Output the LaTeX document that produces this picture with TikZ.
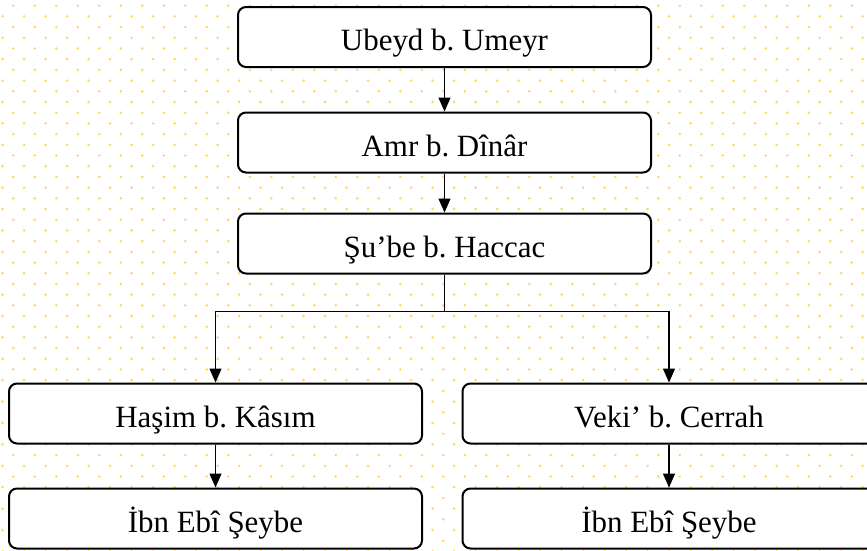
\documentclass[tikz,border=0pt]{standalone}
\usepackage{fontspec}
\setmainfont{Liberation Serif}
\frenchspacing
\usetikzlibrary{
    positioning,
    arrows.meta
    }
\definecolor{dotyellow}{RGB}{255,214,100}

\begin{document}
\begin{tikzpicture}[x=0.75pt, y=-0.75pt]
% chktex-file 1
\tikzset{person/.style =
        {
            rectangle,
            rounded corners=6pt,
            line width=1.5pt,
            draw=black,
            fill=white,
            minimum width=309.75pt,
            minimum height=45pt,
            inner sep=0pt,
            text height=21pt,
            text depth=0.4pt,
            font=\fontsize{23.2}{27}\selectfont
        }
}

\tikzset{link/.style =
        {
            line width=1pt,
            black
        }
}

\tikzset{descent/.style =
        {
            link,
            -{Triangle[length=10.5pt, width=9pt]}
        }
}

		\useasboundingbox (0,0) rectangle (867,550);
		\fill[white] (0,0) rectangle (867,550);
		\foreach \row in {0,...,51}
		\foreach \col in {0,...,40}
			{
				\pgfmathsetmacro{\dx}{13.3-10.7*mod(\row,2)}
				\fill[dotyellow] (\dx+21.5*\col, 5.7+10.7*\row) circle [radius=1.05pt];
			}

		\node[person] (ubeyd) at (444.5,37) {Ubeyd b. Umeyr};
		\node[person] (amr) at (444.5,142.5) {Amr b. Dînâr};
		\node[person] (shube) at (444.5,243.5) {Şu’be b. Haccac};
		\node[person] (hasim) at (215.5,413.5) {Haşim b. Kâsım};
		\node[person] (veki) at (669,413.5) {Veki’ b. Cerrah};
		\node[person] (ibn1) at (215.5,518.5) {İbn Ebî Şeybe};
		\node[person] (ibn2) at (669,518.5) {İbn Ebî Şeybe};

		\coordinate (split) at (444.5,311.5);

		\foreach \start / \finish in
			{ubeyd/amr,
				amr/shube,
				hasim/ibn1,
				veki/ibn2}
			{
				\draw [descent] (\start.south) -- (\finish.north);
			}

		\draw [link] (shube.south) -- (split);
		\draw [descent] (split) -| (hasim.north);
		\draw [descent] (split) -| (veki.north);

	\end{tikzpicture}
\end{document}
